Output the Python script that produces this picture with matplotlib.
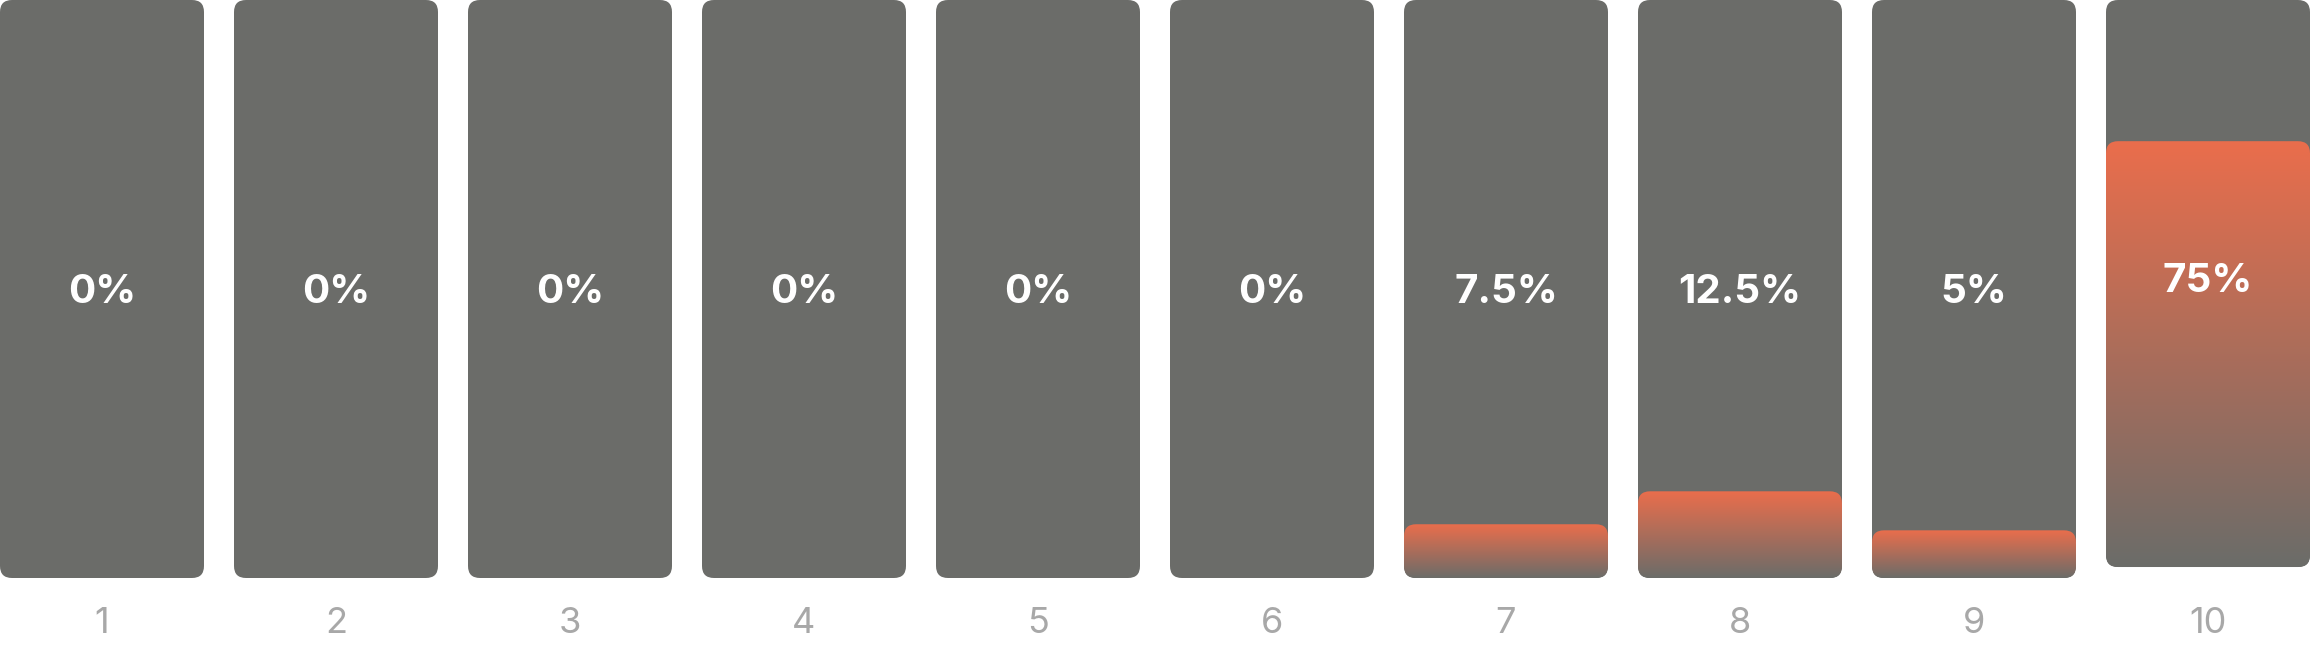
import numpy as np
import matplotlib
matplotlib.use("Agg")
import matplotlib.pyplot as plt
from matplotlib.patches import FancyBboxPatch
from matplotlib.colors import LinearSegmentedColormap

# ---- data ----
categories = ["1", "2", "3", "4", "5", "6", "7", "8", "9", "10"]
value_labels = ["0%", "0%", "0%", "0%", "0%", "0%", "7.5%", "12.5%", "5%", "75%"]
fill_pct = [0, 0, 0, 0, 0, 0, 9.3, 15.0, 8.25, 75.1]      # visible fill, % of track
track_height = [100, 100, 100, 100, 100, 100, 100, 100, 100, 98.1]

# ---- style ----
W, H, DPI = 2310, 648, 100
GRAY = "#6b6c69"
ORANGE = "#ea6e4c"
LABEL_GRAY = "#a8a8a8"

fig = plt.figure(figsize=(W / DPI, H / DPI), dpi=DPI, facecolor="white")
ax = fig.add_axes([0, 70 / H, 1, 578 / H])
n = len(categories)
x = np.arange(n)
bar_w = 204 / 234
ax.set_xlim(-bar_w / 2, n - 1 + bar_w / 2)
ax.set_ylim(0, 100)
ax.axis("off")

p0 = ax.transData.transform((0, 0))
p1 = ax.transData.transform((1, 1))
px_x = p1[0] - p0[0]
px_y = p1[1] - p0[1]
radius_px = 12
rs = radius_px / px_x
asp = px_x / px_y

cmap = LinearSegmentedColormap.from_list("g", [GRAY, ORANGE])
grad = np.linspace(0, 1, 256).reshape(-1, 1)

for i in range(n):
    th = track_height[i]
    bottom = 100 - th
    left = x[i] - bar_w / 2
    track = FancyBboxPatch((left, bottom), bar_w, th,
                           boxstyle=f"round,pad=0,rounding_size={rs}",
                           mutation_aspect=asp, facecolor=GRAY,
                           edgecolor="none", zorder=1)
    ax.add_patch(track)
    fh = th * fill_pct[i] / 100.0
    if fh > 0:
        fill = FancyBboxPatch((left, bottom), bar_w, fh,
                              boxstyle=f"round,pad=0,rounding_size={rs}",
                              mutation_aspect=asp, facecolor="none",
                              edgecolor="none", zorder=2)
        ax.add_patch(fill)
        im = ax.imshow(grad, cmap=cmap, origin="lower", aspect="auto",
                       extent=(left, left + bar_w, bottom, bottom + fh),
                       interpolation="bilinear", zorder=2)
        im.set_clip_path(fill)
    ax.text(x[i], bottom + 275 / px_y, value_labels[i], ha="center",
            va="baseline", color="white", fontsize=29, fontweight="bold",
            family=["Inter", "DejaVu Sans"], zorder=3)
    ax.text(x[i], -55 / px_y, categories[i], ha="center", va="baseline",
            color=LABEL_GRAY, fontsize=26, fontweight="normal",
            family=["Inter", "DejaVu Sans"], clip_on=False, zorder=3)

ax.set_xlim(-bar_w / 2, n - 1 + bar_w / 2)
ax.set_ylim(0, 100)
fig.savefig("out.png", dpi=DPI, facecolor="white")
